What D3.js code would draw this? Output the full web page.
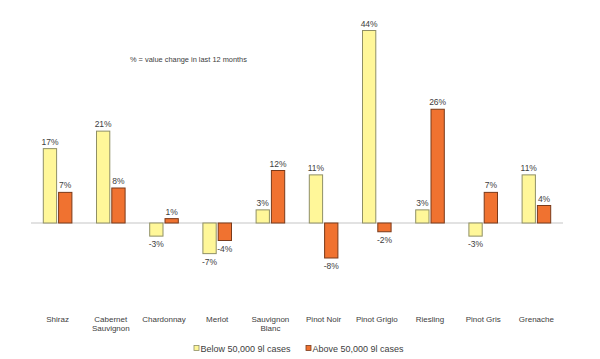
<!DOCTYPE html>
<html><head><meta charset="utf-8">
<script src="https://cdn.jsdelivr.net/npm/d3@7"></script>
<style>body{margin:0;background:#fff}svg{display:block}text{font-family:"Liberation Sans",Arial,sans-serif;fill:#404040}</style>
</head><body><svg id="c" width="600" height="359"></svg>
<script>
const categories = [["Shiraz"],["Cabernet","Sauvignon"],["Chardonnay"],["Merlot"],["Sauvignon","Blanc"],["Pinot Noir"],["Pinot Grigio"],["Riesling"],["Pinot Gris"],["Grenache"]];
const below = [17,21,-3,-7,3,11,44,3,-3,11];
const above = [7,8,1,-4,12,-8,-2,26,7,4];
const seriesNames = ["Below 50,000 9l cases","Above 50,000 9l cases"];
const note = "% = value change in last 12 months";

const fills = ["#FFF799","#F07230"], strokes = ["#8f8f66","#7a3a1a"];
const svg = d3.select("#c");
const keys = categories.map(c=>c.join(" "));
const x = d3.scaleBand().domain(keys).range([31,563]).padding(0);
const y = d3.scaleLinear().domain([-8,44]).range([258,30.5]);
const bw = x.bandwidth(), w = bw*0.25, gap = 2;

svg.append("line").attr("x1",31).attr("x2",563).attr("y1",y(0)).attr("y2",y(0))
  .attr("stroke","#e2e2e2").attr("stroke-width",2);

[below,above].forEach((vals,si)=>{
  const g = svg.append("g");
  vals.forEach((v,i)=>{
    const cx = x(keys[i]) + bw/2;
    const bx = si===0 ? cx - gap/2 - w : cx + gap/2;
    g.append("rect").attr("x",bx).attr("width",w)
      .attr("y",Math.min(y(v),y(0))).attr("height",Math.abs(y(v)-y(0)))
      .attr("fill",fills[si]).attr("stroke",strokes[si]).attr("stroke-width",1);
    g.append("text").attr("x",bx+w/2).attr("y", v>=0 ? y(v)-4 : y(v)+11)
      .attr("text-anchor","middle").attr("font-size","8.5px").text(v+"%");
  });
});

categories.forEach((c,i)=>{
  const t = svg.append("text").attr("x",x(keys[i])+bw/2).attr("y",321.5)
    .attr("text-anchor","middle").attr("font-size","8px");
  c.forEach((line,j)=>t.append("tspan").attr("x",x(keys[i])+bw/2).attr("dy",j?9:0).text(line));
});

svg.append("text").attr("x",130).attr("y",62).attr("font-size","7.4px").attr("fill","#333").text(note);

const lx = [194,306];
seriesNames.forEach((n,i)=>{
  svg.append("rect").attr("x",lx[i]).attr("y",345.5).attr("width",5).attr("height",5)
    .attr("fill",fills[i]).attr("stroke",strokes[i]).attr("stroke-width",0.8);
  svg.append("text").attr("x",lx[i]+6.5).attr("y",352).attr("font-size","9px").text(n);
});
</script></body></html>
